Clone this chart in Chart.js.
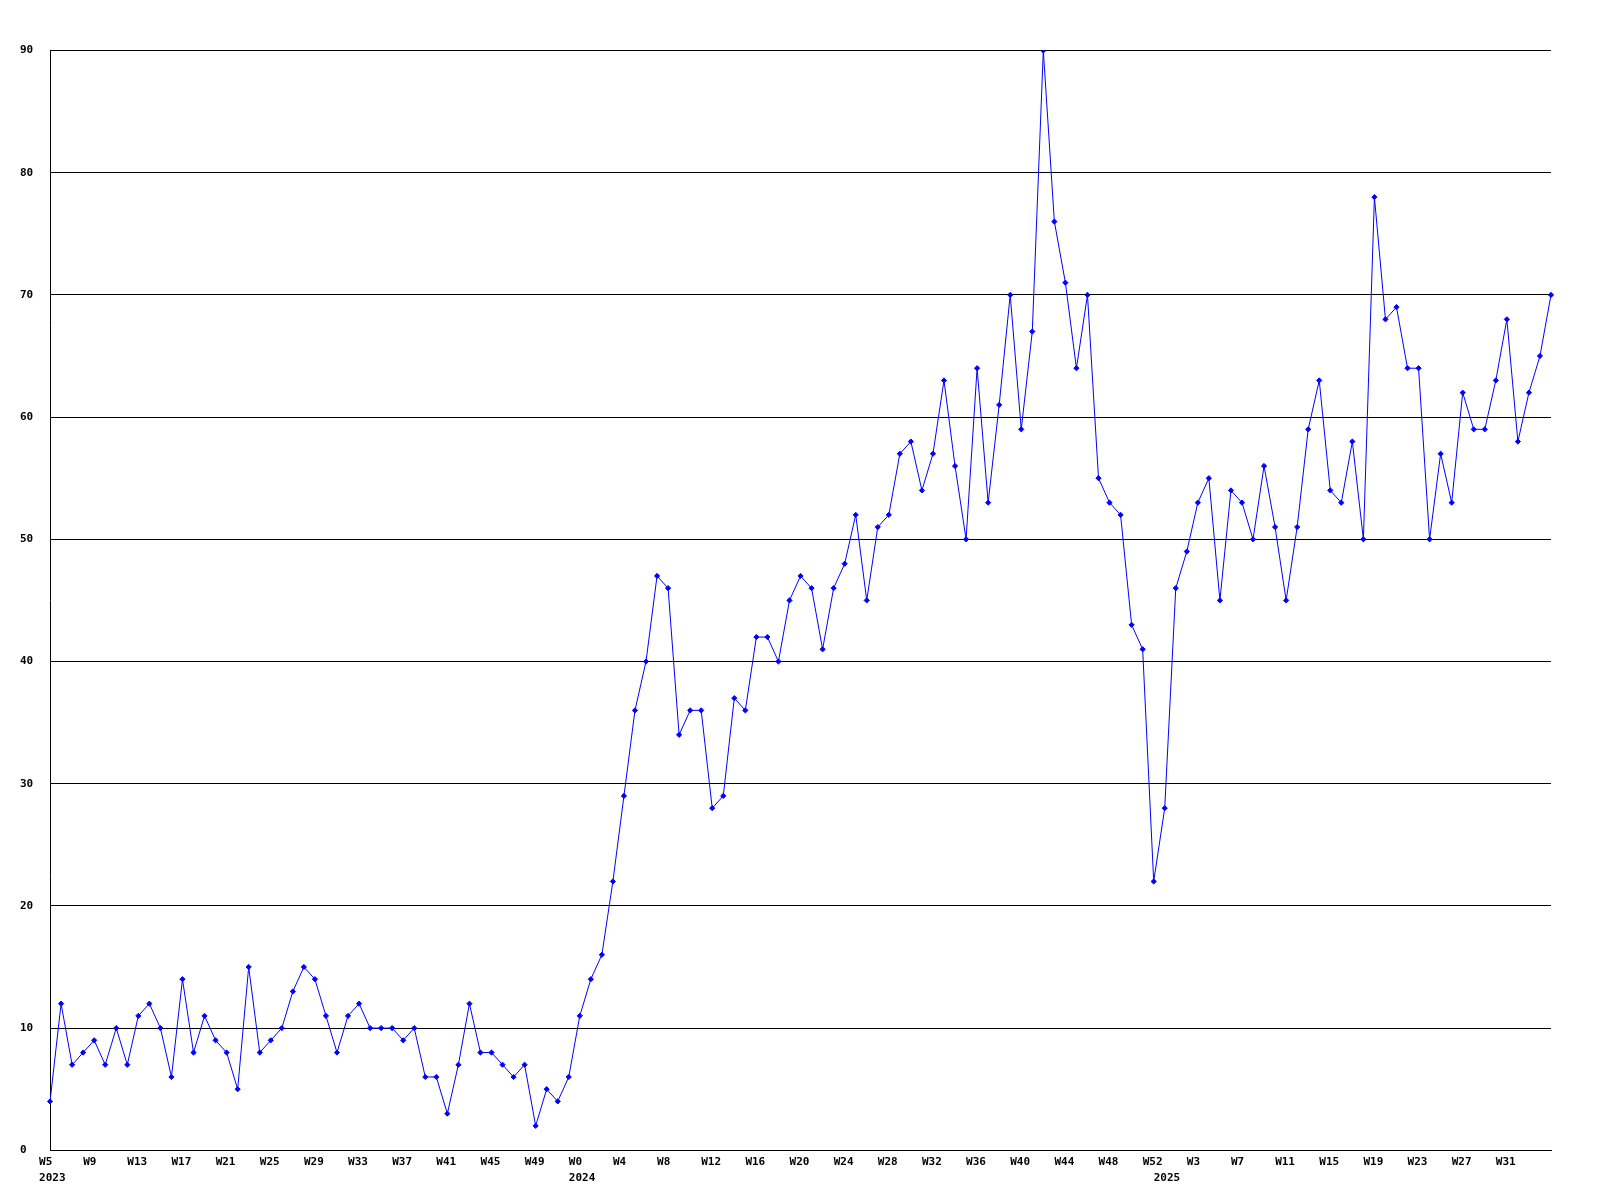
<!DOCTYPE html>
<html>
<head>
<meta charset="utf-8">
<script src="https://cdn.jsdelivr.net/npm/chart.js@4"></script>
<style>
  html, body { margin: 0; padding: 0; background: #fff; }
  canvas { display: block; }
</style>
</head>
<body>
<canvas id="c" width="1600" height="1200"></canvas>
<script>
// Category years and week numbers (one entry per weekly point)
const years2023Weeks = [5, 52];   // W5 .. W52
const years2024Weeks = [0, 52];   // W0 .. W52
const years2025Weeks = [0, 35];   // W0 .. W35

const values2023 = [4, 12, 7, 8, 9, 7, 10, 7, 11, 12, 10, 6, 14, 8, 11, 9, 8, 5, 15, 8,
  9, 10, 13, 15, 14, 11, 8, 11, 12, 10, 10, 10, 9, 10, 6, 6, 3, 7, 12, 8,
  8, 7, 6, 7, 2, 5, 4, 6];
const values2024 = [11, 14, 16, 22, 29, 36, 40, 47, 46, 34, 36, 36, 28, 29, 37, 36, 42, 42, 40, 45,
  47, 46, 41, 46, 48, 52, 45, 51, 52, 57, 58, 54, 57, 63, 56, 50, 64, 53, 61, 70,
  59, 67, 90, 76, 71, 64, 70, 55, 53, 52, 43, 41, 22];
const values2025 = [28, 46, 49, 53, 55, 45, 54, 53, 50, 56, 51, 45, 51, 59, 63, 54, 53, 58, 50, 78,
  68, 69, 64, 64, 50, 57, 53, 62, 59, 59, 63, 68, 58, 62, 65, 70];

const yTickValues = [0, 10, 20, 30, 40, 50, 60, 70, 80, 90];

const labelYears = [];
const labelWeeks = [];
function addYear(y, range) {
  for (let w = range[0]; w <= range[1]; w++) { labelYears.push(y); labelWeeks.push(w); }
}
addYear(2023, years2023Weeks);
addYear(2024, years2024Weeks);
addYear(2025, years2025Weeks);
const categories = labelYears.map((y, i) => y + '-W' + labelWeeks[i]);
const values = values2023.concat(values2024, values2025);

const FONT = "'DejaVu Sans Mono', 'Liberation Mono', monospace";

new Chart(document.getElementById('c'), {
  type: 'line',
  data: {
    labels: categories,
    datasets: [{
      data: values,
      borderColor: '#0000ff',
      backgroundColor: '#0000ff',
      borderWidth: 1,
      tension: 0,
      pointStyle: 'rectRot',
      pointRadius: 2.6,
      pointBorderWidth: 1,
      pointBorderColor: '#0000ff',
      pointBackgroundColor: '#0000ff',
      fill: false
    }]
  },
  options: {
    responsive: false,
    animation: false,
    devicePixelRatio: 1,
    layout: { padding: { left: 20, right: 49, top: 50.5, bottom: 9.8 } },
    plugins: { legend: { display: false }, tooltip: { enabled: false } },
    scales: {
      x: {
        type: 'category',
        offset: false,
        grid: { display: false, drawTicks: false },
        border: { display: true, color: '#000', width: 1 },
        ticks: {
          autoSkip: false,
          maxRotation: 0,
          minRotation: 0,
          align: 'start',
          labelOffset: -11,
          padding: 4,
          color: '#000',
          font: { family: FONT, size: 11, weight: 'bold', lineHeight: 1.45 },
          callback: function (val, i) {
            const last = categories.length - 1;
            const showWeek = (i % 4 === 0) && i !== last;
            const yearStart = (i === 0) || labelYears[i] !== labelYears[i - 1];
            const w = showWeek ? 'W' + labelWeeks[i] : '';
            if (yearStart) return [w, String(labelYears[i])];
            return w;
          }
        }
      },
      y: {
        min: 0,
        max: 90,
        afterBuildTicks: function (axis) { axis.ticks = yTickValues.map(v => ({ value: v })); },
        grid: { display: true, color: '#000', lineWidth: 1, drawTicks: false },
        border: { display: true, color: '#000', width: 1 },
        ticks: {
          crossAlign: 'far',
          padding: 8.4,
          color: '#000',
          font: { family: FONT, size: 11, weight: 'bold' }
        }
      }
    }
  }
});
</script>
</body>
</html>
